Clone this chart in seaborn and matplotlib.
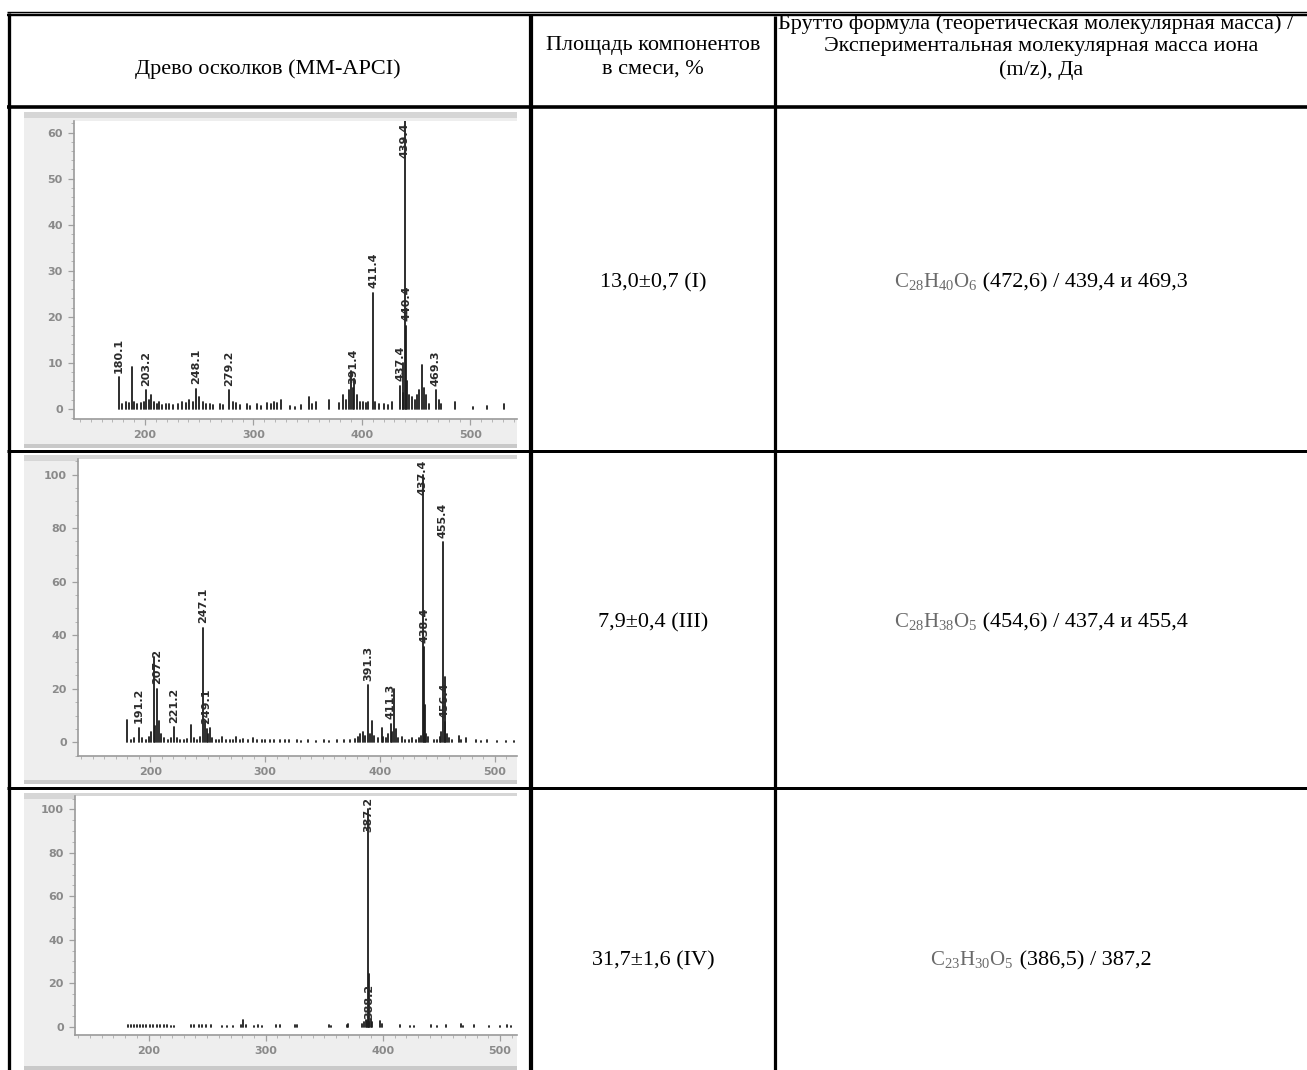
import numpy as np
import pandas as pd
import seaborn as sns
import matplotlib.pyplot as plt
from matplotlib.lines import Line2D
from matplotlib.patches import Rectangle
from matplotlib.ticker import MultipleLocator

# ---------------- table text ----------------
header_col1 = "Древо осколков (ММ-APCI)"
header_col2 = ["Площадь компонентов", "в смеси, %"]
header_col3 = ["Брутто формула (теоретическая молекулярная масса) /",
               "Экспериментальная молекулярная масса иона",
               "(m/z), Да"]
area_pct = ["13,0±0,7 (I)", "7,9±0,4 (III)", "31,7±1,6 (IV)"]
formulas = [r"$\mathrm{C_{28}H_{40}O_{6}}$",
            r"$\mathrm{C_{28}H_{38}O_{5}}$",
            r"$\mathrm{C_{23}H_{30}O_{5}}$"]
mass_text = [" (472,6) / 439,4 и 469,3",
             " (454,6) / 437,4 и 455,4",
             " (386,5) / 387,2"]

# ---------------- spectrum 1 (I) ----------------
s1_mz = [176.0, 187.8, 201.0, 247.0, 277.6, 391.9, 410.6, 435.5, 439.3, 440.9, 455.8, 468.0,
         179, 182, 185, 190, 193, 196, 199, 203.5, 205.5, 208, 211, 213, 216, 219, 222, 226,
         230, 234.5, 238, 240.8, 244, 249.5, 253, 256, 259.5, 263, 268.7, 272, 281, 284, 288,
         293.7, 297, 303, 307, 312.4, 316, 318.7, 322, 325, 334, 338, 343.6, 351.4, 354, 357.6,
         370, 379, 382.6, 385, 388, 390, 393, 395, 398, 401, 404, 406, 412, 416, 420, 424,
         427.8, 437.5, 438.2, 442, 443.5, 446, 449, 451, 453, 457, 459, 462, 471, 473, 485.4,
         502.5, 515, 530.7]
s1_int = [6.9, 9.1, 4.0, 4.4, 4.0, 4.5, 25.2, 5.0, 62.5, 18.0, 9.5, 4.0,
          1.0, 1.5, 1.2, 1.5, 1.0, 1.2, 1.5, 2.0, 3.0, 1.5, 1.0, 1.5, 0.8, 1.0, 1.0, 0.8,
          1.0, 1.5, 1.2, 2.0, 1.5, 2.5, 1.5, 1.0, 1.0, 0.8, 1.0, 0.8, 1.5, 1.2, 0.8,
          1.0, 0.7, 1.0, 0.6, 1.2, 1.0, 1.5, 1.2, 2.0, 0.7, 0.5, 0.8, 2.5, 1.0, 1.5,
          2.0, 1.2, 3.0, 2.0, 4.0, 8.3, 6.5, 3.0, 1.5, 1.5, 1.2, 1.5, 1.5, 1.0, 1.0, 0.8,
          1.5, 3.5, 10.0, 6.0, 3.0, 2.5, 2.0, 3.0, 4.0, 4.5, 3.0, 1.0, 2.0, 1.0, 1.5,
          0.5, 0.6, 1.0]
s1_lab_mz = [176.0, 201.0, 247.0, 277.6, 391.9, 410.6, 435.5, 439.3, 440.9, 468.0]
s1_lab_h = [6.9, 4.0, 4.4, 4.0, 4.5, 25.2, 5.0, 62.5, 18.0, 4.0]
s1_lab_txt = ["180.1", "203.2", "248.1", "279.2", "391.4", "411.4", "437.4", "439.4", "440.4", "469.3"]

# ---------------- spectrum 2 (III) ----------------
s2_mz = [179.4, 190.2, 203.0, 206.0, 207.4, 220.6, 235.3, 245.6, 247.8, 249.0, 251.8,
         389.8, 392.8, 401.6, 409.5, 412.0, 437.3, 438.4, 439.4, 454.6, 456.4, 456.9,
         183, 186, 193, 196, 199, 201, 204.5, 209, 212, 215, 218, 223, 226, 229, 232, 238,
         241, 243, 250.5, 254, 257, 260, 262, 266, 269, 272, 275, 278, 281, 285, 289.7, 293,
         297, 300, 304, 308, 313, 317, 321, 328, 331, 337, 344, 351.5, 356, 363, 369, 374,
         378, 381, 383, 385, 387, 391, 395, 398, 403, 405, 407, 410.5, 414, 416, 419, 422,
         425, 428, 431, 434, 436, 440.5, 442, 447, 450, 452, 453.5, 458, 460, 463, 469, 471,
         475, 484, 488, 493, 502, 510, 517]
s2_int = [8.2, 5.5, 32.0, 20.0, 8.0, 5.7, 6.3, 42.8, 8.0, 5.0, 5.5,
          21.4, 8.0, 5.5, 7.0, 20.0, 100.0, 35.5, 14.0, 74.8, 7.5, 24.5,
          1.0, 1.5, 1.5, 1.0, 2.0, 4.0, 6.0, 3.0, 1.5, 1.0, 1.5, 1.5, 1.0, 1.0, 1.2, 1.5,
          1.0, 2.0, 3.0, 1.5, 1.0, 1.0, 2.0, 1.0, 0.8, 1.0, 2.0, 1.0, 1.2, 1.0, 1.5, 1.0,
          1.0, 0.8, 1.0, 0.8, 1.0, 0.8, 0.8, 1.0, 0.6, 0.7, 0.6, 0.7, 0.5, 0.7, 1.0, 0.8,
          1.2, 2.0, 3.0, 4.0, 2.5, 3.0, 2.5, 1.5, 2.0, 1.5, 3.0, 4.0, 5.0, 1.5, 2.0, 1.0,
          1.0, 1.5, 1.0, 1.5, 2.5, 3.0, 2.0, 1.0, 1.0, 2.0, 4.0, 3.0, 1.5, 1.0, 2.5, 1.0,
          1.5, 1.0, 0.5, 0.8, 0.5, 0.5, 0.5]
s2_lab_mz = [190.2, 206.0, 220.6, 245.6, 249.0, 389.8, 409.5, 437.3, 438.4, 454.6, 456.4]
s2_lab_h = [5.5, 20.0, 5.7, 42.8, 5.0, 21.4, 7.0, 100.0, 35.5, 74.8, 7.5]
s2_lab_txt = ["191.2", "207.2", "221.2", "247.1", "249.1", "391.3", "411.3", "437.4", "438.4", "455.4", "456.4"]

# ---------------- spectrum 3 (IV) ----------------
s3_mz = [387.5, 387.9, 388.3,
         182.7, 185, 187.5, 190, 192.5, 195, 198, 201, 204, 207, 210, 213, 216, 219, 222,
         236, 239, 243, 246, 249, 253, 263, 267, 272, 279, 280.8, 283, 290, 293, 297, 309,
         312.5, 325, 327, 354, 356, 369, 370.5, 382, 384, 385.5, 386.5, 389.5, 391, 397.6,
         399, 415, 423.5, 427, 440.8, 446, 453.8, 466.8, 468, 478, 491, 500, 505.7, 509]
s3_int = [100.0, 24.0, 2.0,
          0.7, 0.6, 0.8, 0.7, 0.8, 0.6, 0.7, 0.5, 0.6, 0.5, 0.6, 0.5, 0.5, 0.4, 0.4,
          0.5, 0.7, 0.6, 0.8, 0.6, 0.7, 0.3, 0.3, 0.4, 0.8, 3.0, 0.6, 0.4, 0.5, 0.3, 0.5,
          0.9, 0.5, 0.9, 0.5, 0.3, 0.7, 1.0, 1.0, 2.0, 3.0, 2.5, 3.5, 2.0, 2.5,
          1.0, 0.5, 0.4, 0.3, 0.8, 0.3, 0.8, 1.0, 0.4, 0.6, 0.3, 0.4, 0.5, 0.4]
s3_lab_mz = [387.5, 388.3]
s3_lab_h = [100.0, 2.0]
s3_lab_txt = ["387.2", "388.2"]

W, H = 1307, 1070

sns.set_style("ticks")
plt.rcParams["font.family"] = ["DejaVu Sans"]
plt.rcParams["mathtext.fontset"] = "custom"
plt.rcParams["mathtext.rm"] = "Liberation Serif"
plt.rcParams["mathtext.it"] = "Liberation Serif:italic"

fig = plt.figure(figsize=(W / 100, H / 100), dpi=100)
fig.patch.set_facecolor("white")


def fx(x):
    return x / W


def fy(y):
    return 1 - y / H


def hline(y, x0, x1, px):
    fig.add_artist(Line2D([fx(x0), fx(x1)], [fy(y), fy(y)], transform=fig.transFigure,
                          color="black", lw=px * 0.72, solid_capstyle="butt", zorder=5))


def vline(x, y0, y1, px):
    fig.add_artist(Line2D([fx(x), fx(x)], [fy(y0), fy(y1)], transform=fig.transFigure,
                          color="black", lw=px * 0.72, solid_capstyle="butt", zorder=5))


def box(x0, y0, x1, y1, color):
    fig.add_artist(Rectangle((fx(x0), fy(y1)), fx(x1) - fx(x0), (y1 - y0) / H,
                             transform=fig.transFigure, facecolor=color, edgecolor="none",
                             zorder=-2))


def spectrum(frame, plot, xlim, ylim, ymaj, ymin_, mz, inten, lab_mz, lab_h, lab_txt):
    fx0, fy0, fx1, fy1 = frame
    box(fx0, fy0, fx1, fy1, "#eeeeee")
    box(fx0, fy0, fx1, fy0 + 6, "#d6d6d6")
    box(fx0, fy1 - 4, fx1, fy1, "#c9c9c9")
    x0, y0, x1, y1 = plot
    ax = fig.add_axes([fx(x0), fy(y1), fx(x1) - fx(x0), (y1 - y0) / H])
    ax.set_facecolor("white")

    df = pd.DataFrame({"mz": np.repeat(mz, 2),
                       "I": np.column_stack([np.zeros(len(inten)), inten]).ravel(),
                       "peak": np.repeat(np.arange(len(mz)), 2)})
    sns.lineplot(data=df, x="mz", y="I", units="peak", estimator=None, sort=False,
                 color="#1c1c1c", lw=1.3, ax=ax)

    for m, h, t in zip(lab_mz, lab_h, lab_txt):
        if h > 0.9 * ylim[1]:
            ax.text(m, ylim[1] - 0.3, t, rotation=90, ha="center", va="top",
                    fontsize=8, fontweight="bold", color="#2a2a2a")
        else:
            ax.text(m, h + 0.015 * (ylim[1] - ylim[0]), t, rotation=90, ha="center",
                    va="bottom", fontsize=8, fontweight="bold", color="#2a2a2a")

    ax.set_xlim(*xlim)
    ax.set_ylim(*ylim)
    ax.xaxis.set_major_locator(MultipleLocator(100))
    ax.xaxis.set_minor_locator(MultipleLocator(10))
    ax.yaxis.set_major_locator(MultipleLocator(ymaj))
    ax.yaxis.set_minor_locator(MultipleLocator(ymin_))
    ax.set_xlabel("")
    ax.set_ylabel("")
    sns.despine(ax=ax, top=True, right=True)
    for s in ("left", "bottom"):
        ax.spines[s].set_color("#9a9a9a")
        ax.spines[s].set_linewidth(1.2)
    ax.tick_params(which="major", length=4, width=0.9, color="#a0a0a0",
                   labelsize=8, labelcolor="#8a8a8a", pad=4)
    ax.tick_params(which="minor", length=2, width=0.7, color="#b5b5b5")
    for lab in ax.get_xticklabels() + ax.get_yticklabels():
        lab.set_fontweight("bold")
    return ax


spectrum((24, 112, 517, 448), (74, 121, 517, 419), (134.5, 543), (-2.2, 62.5), 10, 2,
         s1_mz, s1_int, s1_lab_mz, s1_lab_h, s1_lab_txt)
spectrum((24, 455, 517, 784), (78, 459, 517, 756), (137, 519.4), (-5.1, 105.8), 20, 5,
         s2_mz, s2_int, s2_lab_mz, s2_lab_h, s2_lab_txt)
spectrum((24, 793, 517, 1070), (75, 796, 517, 1035), (137.2, 514.5), (-3.9, 106.2), 20, 5,
         s3_mz, s3_int, s3_lab_mz, s3_lab_h, s3_lab_txt)

# ---------------- table grid ----------------
hline(11.7, 7, W, 1.4)
hline(14.6, 7, W, 2.4)
hline(107, 7, W, 3.6)
hline(451, 7, W, 3.0)
hline(788, 7, W, 3.0)
vline(9, 13, H, 3.3)
vline(530.5, 15.8, H, 4.2)
vline(775, 15.8, H, 3.2)

# ---------------- table text ----------------
serif = dict(family="Liberation Serif", fontsize=16, color="black")
fig.text(fx(268), fy(74), header_col1, ha="center", va="baseline", **serif)
fig.text(fx(653), fy(50), header_col2[0], ha="center", va="baseline", **serif)
fig.text(fx(653), fy(74), header_col2[1], ha="center", va="baseline", **serif)
fig.text(fx(778), fy(29), header_col3[0], ha="left", va="baseline", **serif)
fig.text(fx(1041), fy(51.5), header_col3[1], ha="center", va="baseline", **serif)
fig.text(fx(1041), fy(75), header_col3[2], ha="center", va="baseline", **serif)

row_base = [287, 627, 965]
renderer = fig.canvas.get_renderer()
for yb, pct, form, rest in zip(row_base, area_pct, formulas, mass_text):
    fig.text(fx(653), fy(yb), pct, ha="center", va="baseline", **serif)
    t_form = fig.text(0, fy(yb), form, ha="left", va="baseline",
                      fontsize=15, color="#6a6a6a")
    t_rest = fig.text(0, fy(yb), rest, ha="left", va="baseline", **serif)
    wf = t_form.get_window_extent(renderer).width
    wr = t_rest.get_window_extent(renderer).width
    xs = 1041 - (wf + wr) / 2
    t_form.set_x(fx(xs))
    t_rest.set_x(fx(xs + wf))

fig.savefig("out.png", dpi=100)
